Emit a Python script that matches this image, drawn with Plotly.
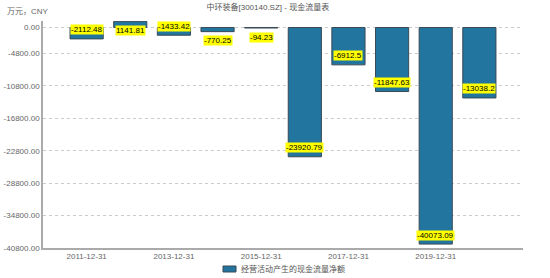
import plotly.graph_objects as go

dates = ["2011-12-31", "2012-12-31", "2013-12-31", "2014-12-31", "2015-12-31",
         "2016-12-31", "2017-12-31", "2018-12-31", "2019-12-31", "2020-12-31"]
values = [-2112.48, 1141.81, -1433.42, -770.25, -94.23,
          -23920.79, -6912.5, -11847.63, -40073.09, -13038.2]
value_labels = ["-2112.48", "1141.81", "-1433.42", "-770.25", "-94.23",
                "-23920.79", "-6912.5", "-11847.63", "-40073.09", "-13038.2"]
series_name = "经营活动产生的现金流量净额"
y_ticks = [1200, 0, -4800, -10800, -16800, -22800, -28800, -34800, -40800]
y_tick_text = ["", "0.00", "-4800.00", "-10800.00", "-16800.00", "-22800.00",
               "-28800.00", "-34800.00", "-40800.00"]
title_text = "中环装备[300140.SZ] - 现金流量表"
unit_text = "万元，CNY"

FONT = "Liberation Sans, Noto Sans CJK SC, sans-serif"
BAR_COLOR = "#21759f"
BAR_LINE = "#3a4a55"

fig = go.Figure()
fig.add_trace(go.Bar(
    x=dates, y=values, name=series_name,
    marker=dict(color=BAR_COLOR, line=dict(color=BAR_LINE, width=1)),
    width=0.76, showlegend=False,
))

for d, v, t in zip(dates, values, value_labels):
    fig.add_annotation(
        x=d, y=v, text=t, showarrow=False,
        yshift=9 if v < -1000 else -9,
        font=dict(family=FONT, size=8, color="#000"),
        bgcolor="#ffff00", borderpad=0,
    )

fig.add_annotation(
    xref="paper", yref="paper", x=-0.08, y=1.0, yshift=10,
    xanchor="left", yanchor="middle", text=unit_text, showarrow=False,
    font=dict(family=FONT, size=8, color="#666"),
)

# manual legend
fig.add_shape(type="rect", xref="paper", yref="paper",
              x0=(223 - 43) / 480, x1=(236 - 43) / 480,
              y0=-(266 - 248) / 227, y1=-(272 - 248) / 227,
              fillcolor=BAR_COLOR, line=dict(color=BAR_LINE, width=1))
fig.add_annotation(xref="paper", yref="paper", x=(239 - 43) / 480,
                   y=-(269 - 248) / 227, xanchor="left", yanchor="middle",
                   text=series_name, showarrow=False,
                   font=dict(family=FONT, size=8, color="#555"))

fig.update_layout(
    width=550, height=278,
    margin=dict(l=43, r=27, t=21, b=30, autoexpand=False),
    paper_bgcolor="white", plot_bgcolor="white",
    title=dict(text=title_text, x=0.487, xanchor="center", y=0.975, yanchor="middle",
               font=dict(family=FONT, size=8, color="#555")),
    showlegend=False,
    bargap=0.24,
)
fig.update_xaxes(
    type="category", range=[-1, 10],
    tickmode="array", tickvals=dates[::2], ticktext=dates[::2],
    showline=True, linecolor="#aaa", linewidth=1.5,
    showgrid=False, ticks="", tickfont=dict(family=FONT, size=8, color="#666"),
)
fig.update_yaxes(
    range=[-40800, 1200], tickmode="array", tickvals=y_ticks, ticktext=y_tick_text,
    showline=True, linecolor="#aaa", linewidth=1.5,
    showgrid=True, gridcolor="#ccc", griddash="dot", gridwidth=1,
    zeroline=False, ticks="", ticklen=2,
    tickfont=dict(family=FONT, size=8, color="#666"),
)

fig.write_html("out.html")
